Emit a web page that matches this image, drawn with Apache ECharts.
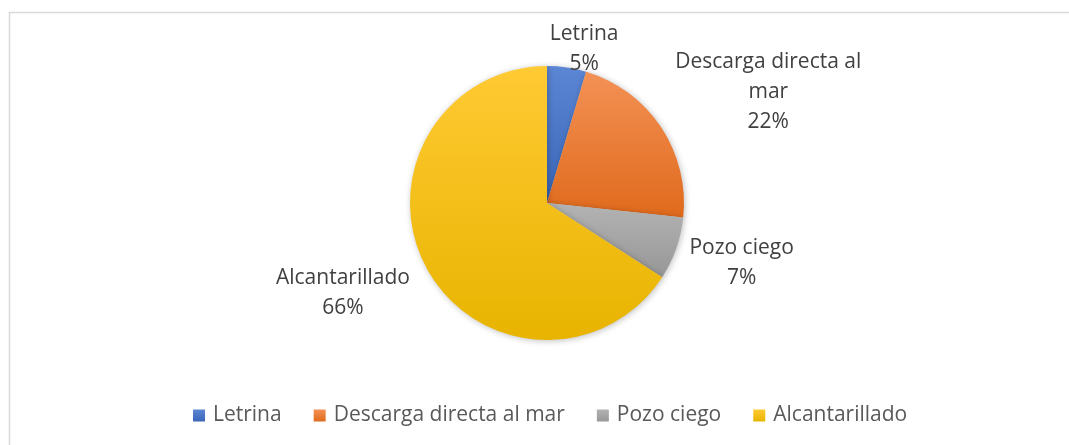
<!DOCTYPE html>
<html>
<head>
<meta charset="utf-8">
<script src="https://cdn.jsdelivr.net/npm/echarts@6/dist/echarts.min.js"></script>
<style>
  html, body { margin: 0; padding: 0; background: #fff; }
  #chart { width: 1069px; height: 445px; }
</style>
</head>
<body>
<div id="chart"></div>
<script>
// datos
const categories = ['Letrina', 'Descarga directa al mar', 'Pozo ciego', 'Alcantarillado'];
const values = [4.6, 22.1, 7.4, 65.9];
const labelNames = ['Letrina', 'Descarga directa al\nmar', 'Pozo ciego', 'Alcantarillado'];
const colorsTop = ['#5b86d4', '#f39155', '#b3b3b3', '#ffca33'];
const colorsBottom = ['#3a66b8', '#e06a1c', '#979797', '#e8b400'];

// ajustes de posicion de etiquetas (px)
const labelShift = [[11, -9], [91, -43], [51, 11], [-70, 20]];

const chart = echarts.init(document.getElementById('chart'));
const font = 'Open Sans';

const pieData = categories.map((name, i) => ({
  name: name,
  value: values[i],
  itemStyle: {
    color: {
      type: 'linear', x: 0, y: 0, x2: 0, y2: 1,
      colorStops: [{ offset: 0, color: colorsTop[i] }, { offset: 1, color: colorsBottom[i] }]
    }
  },
  label: {
    formatter: p => labelNames[i] + '\n' + Math.round(p.percent) + '%'
  }
}));

chart.setOption({
  backgroundColor: '#fff',
  animation: false,
  graphic: [{
    type: 'rect',
    shape: { x: 9.5, y: 12.5, width: 1080, height: 450 },
    style: { fill: 'none', stroke: '#d9d9d9', lineWidth: 1.5 },
    silent: true
  }],
  legend: {
    bottom: 14,
    left: 188,
    itemWidth: 12,
    itemHeight: 12,
    itemGap: 32,
    icon: 'rect',
    textStyle: { fontFamily: font, fontSize: 21, color: '#595959', padding: [0, 0, 0, 3] },
    data: categories
  },
  series: [{
    type: 'pie',
    center: [547, 203],
    radius: 137,
    startAngle: 90,
    clockwise: true,
    percentPrecision: 0,
    data: pieData,
    itemStyle: {
      shadowBlur: 6,
      shadowColor: 'rgba(0,0,0,0.25)',
      shadowOffsetX: 1,
      shadowOffsetY: 1
    },
    label: {
      show: true,
      position: 'outside',
      fontFamily: font,
      fontSize: 21,
      lineHeight: 30,
      color: '#404040',
      align: 'center'
    },
    labelLine: { show: false, length: 10, length2: 0 },
    labelLayout: p => ({
      align: 'center',
      dx: labelShift[p.dataIndex][0],
      dy: labelShift[p.dataIndex][1]
    })
  }]
});
</script>
</body>
</html>
